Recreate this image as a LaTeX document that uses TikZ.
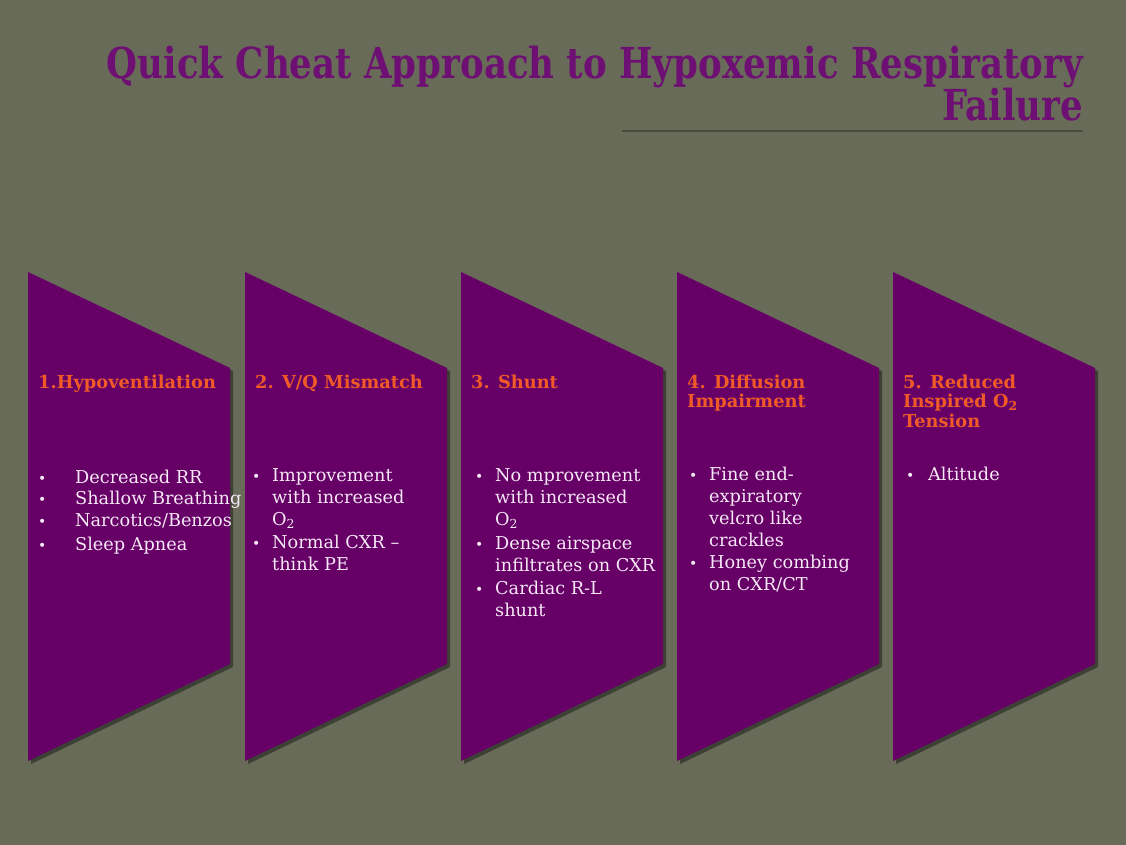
\documentclass[tikz,border=0pt]{standalone}
\usepackage{fontspec}
\setmainfont{DejaVu Serif}
\newfontfamily\condfont{DejaVu Serif Condensed}
\usetikzlibrary{shadows}
\definecolor{bg}{RGB}{103,107,87}
\definecolor{panel}{RGB}{102,0,102}
\definecolor{head}{RGB}{240,90,40}
\definecolor{bodytxt}{RGB}{246,232,246}
\definecolor{titlecol}{RGB}{110,15,115}
\definecolor{rulecol}{RGB}{70,78,60}
\newcommand\talltitle[1]{\scalebox{1}[1.08]{#1}}
\tikzset{
  panelshape/.style={fill=panel, draw=none, drop shadow={shadow xshift=3pt, shadow yshift=-3pt, opacity=0.4, fill=black}},
  headtxt/.style={anchor=base west, inner sep=0pt, text=head, font=\fontsize{17.8}{21}\selectfont\bfseries},
  bodyline/.style={anchor=base west, inner sep=0pt, text=bodytxt, font=\fontsize{17.7}{22}\selectfont},
  bul/.style={anchor=base west, inner sep=0pt, text=bodytxt, font=\fontsize{14}{22}\selectfont},
  titletxt/.style={anchor=base east, inner sep=0pt, text=titlecol, font=\condfont\bfseries\fontsize{39.5}{44}\selectfont}
}
\begin{document}
\begin{tikzpicture}[x=1pt,y=-1pt]
\fill[bg] (0,0) rectangle (1126,845);
\useasboundingbox (0,0) rectangle (1126,845);
% title
\node[titletxt] (t1) at (1083,79) {\talltitle{Quick Cheat Approach to Hypoxemic Respiratory}};
\node[titletxt] (t2) at (1083,121) {\talltitle{Failure}};
\coordinate (rl) at (622,131);
\coordinate (rr) at (1083,131);
\draw[rulecol, line width=1.5pt] (rl) -- (rr);
% panels
\foreach \i/\x in {1/28,2/245,3/461,4/677,5/893}{
  \fill[panelshape] (\x,272) -- (\x+202,368) -- (\x+202,664) -- (\x,761) -- cycle;
}
% headings
\node[headtxt] (h1) at (38,388) {1.Hypoventilation};
\node[headtxt] (h2) at (255,388) {2. V/Q Mismatch};
\node[headtxt] (h3) at (471,388) {3. Shunt};
\node[headtxt] (h4a) at (687,388) {4. Diffusion};
\node[headtxt] (h4b) at (687,407) {Impairment};
\node[headtxt] (h5a) at (903,388) {5. Reduced};
\node[headtxt] (h5b) at (903,407) {Inspired O\textsubscript{2}};
\node[headtxt] (h5c) at (903,427) {Tension};
% panel 1
\foreach \n/\y/\t in {a/483/{Decreased RR},b/504/{Shallow Breathing},c/526/{Narcotics/Benzos},d/550/{Sleep Apnea}}{
  \node[bul] (p1b\n) at (38,\y) {•};
  \node[bodyline] (p1\n) at (75,\y) {\t};
}
% panel 2
\node[bul] (p2ba) at (252,481) {•};
\node[bul] (p2bb) at (252,548) {•};
\foreach \n/\y/\t in {a/481/{Improvement},b/503/{with increased},c/525/{O\textsubscript{2}},d/548/{Normal CXR –},e/570/{think PE}}{
  \node[bodyline] (p2\n) at (272,\y) {\t};
}
% panel 3
\node[bul] (p3ba) at (475,481) {•};
\node[bul] (p3bb) at (475,549) {•};
\node[bul] (p3bc) at (475,594) {•};
\foreach \n/\y/\t in {a/481/{No mprovement},b/503/{with increased},c/525/{O\textsubscript{2}},d/549/{Dense airspace},e/571/{infiltrates on CXR},f/594/{Cardiac R-L},g/616/{shunt}}{
  \node[bodyline] (p3\n) at (495,\y) {\t};
}
% panel 4
\node[bul] (p4ba) at (689,480) {•};
\node[bul] (p4bb) at (689,568) {•};
\foreach \n/\y/\t in {a/480/{Fine end-},b/502/{expiratory},c/524/{velcro like},d/546/{crackles},e/568/{Honey combing},f/590/{on CXR/CT}}{
  \node[bodyline] (p4\n) at (709,\y) {\t};
}
% panel 5
\node[bul] (p5ba) at (906,480) {•};
\node[bodyline] (p5a) at (928,480) {Altitude};
\end{tikzpicture}
\end{document}
